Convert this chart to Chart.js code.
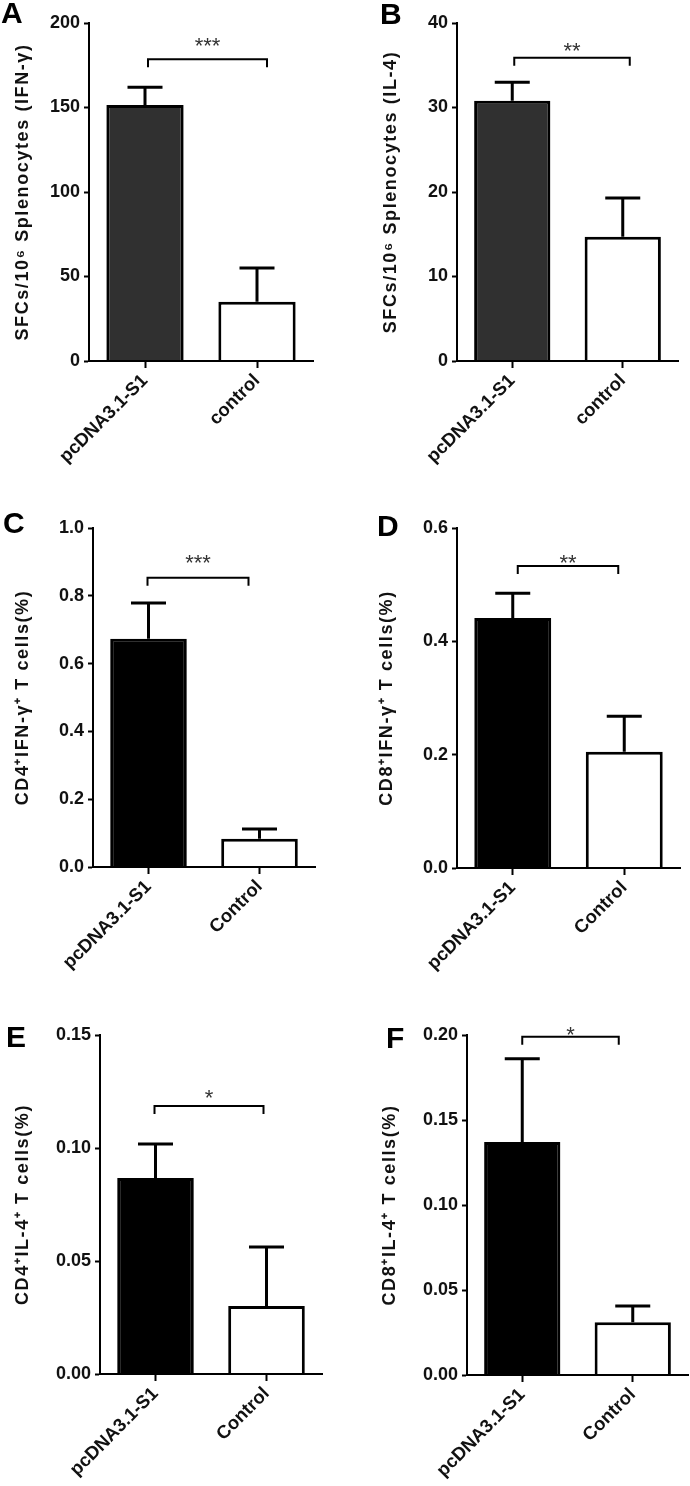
<!DOCTYPE html>
<html>
<head>
<meta charset="utf-8">
<script src="https://cdn.jsdelivr.net/npm/chart.js@4.4.1/dist/chart.umd.min.js"></script>
<style>
  html, body { margin: 0; padding: 0; background: #fff; }
  body { width: 690px; height: 1486px; position: relative; overflow: hidden; }
  canvas { position: absolute; }
  .lbl { position: absolute; font-family: "Liberation Sans", Arial, sans-serif; font-weight: bold; font-size: 30px; line-height: 30px; color: #000; }
</style>
</head>
<body>
<canvas id="cA" width="345" height="490" style="left:0;top:0"></canvas>
<canvas id="cB" width="345" height="490" style="left:345px;top:0"></canvas>
<canvas id="cC" width="345" height="500" style="left:0;top:490px"></canvas>
<canvas id="cD" width="345" height="500" style="left:345px;top:490px"></canvas>
<canvas id="cE" width="345" height="496" style="left:0;top:990px"></canvas>
<canvas id="cF" width="345" height="496" style="left:345px;top:990px"></canvas>
<div class="lbl" style="left:1px;top:-2px">A</div>
<div class="lbl" style="left:380px;top:-1px">B</div>
<div class="lbl" style="left:3px;top:508px">C</div>
<div class="lbl" style="left:377px;top:511px">D</div>
<div class="lbl" style="left:6px;top:1022px">E</div>
<div class="lbl" style="left:386px;top:1023px">F</div>
<script>
// ---- data ----
const categoriesAB = ['pcDNA3.1-S1', 'control'];
const categoriesCF = ['pcDNA3.1-S1', 'Control'];

const valuesA = [151.5, 35];
const errorsA = [10.5, 20];
const bracketA = 178.5;
const starsA = '***';

const valuesB = [30.8, 14.7];
const errorsB = [2.2, 4.6];
const bracketB = 35.9;
const starsB = '**';

const valuesC = [0.673, 0.083];
const errorsC = [0.106, 0.029];
const bracketC = 0.853;
const starsC = '***';

const valuesD = [0.441, 0.205];
const errorsD = [0.044, 0.063];
const bracketD = 0.533;
const starsD = '**';

const valuesE = [0.0867, 0.0301];
const errorsE = [0.0151, 0.0261];
const bracketE = 0.1186;
const starsE = '*';

const valuesF = [0.137, 0.031];
const errorsF = [0.049, 0.0096];
const bracketF = 0.199;
const starsF = '*';

const yTicksA = { min: 0, max: 200, step: 50, dec: 0 };
const yTicksB = { min: 0, max: 40, step: 10, dec: 0 };
const yTicksC = { min: 0, max: 1.0, step: 0.2, dec: 1 };
const yTicksD = { min: 0, max: 0.6, step: 0.2, dec: 1 };
const yTicksE = { min: 0, max: 0.15, step: 0.05, dec: 2 };
const yTicksF = { min: 0, max: 0.20, step: 0.05, dec: 2 };

const titleA = 'SFCs/10\u2076 Splenocytes (IFN-\u03B3)';
const titleB = 'SFCs/10\u2076 Splenocytes (IL-4)';
const titleC = 'CD4\u207AIFN-\u03B3\u207A T cells(%)';
const titleD = 'CD8\u207AIFN-\u03B3\u207A T cells(%)';
const titleE = 'CD4\u207AIL-4\u207A T cells(%)';
const titleF = 'CD8\u207AIL-4\u207A T cells(%)';

// ---- drawing ----
const FONT = '"Liberation Sans", Arial, sans-serif';

// wider letter spacing for the axis titles (drawn with the grid layer, before the datasets)
const spacingPlugin = {
  id: 'spacing',
  beforeDraw(chart) { chart.ctx.letterSpacing = '1.6px'; },
  beforeDatasetsDraw(chart) { chart.ctx.letterSpacing = '0px'; }
};

const sigPlugin = {
  id: 'sig',
  afterDatasetsDraw(chart, args, opts) {
    const ctx = chart.ctx;
    const meta = chart.getDatasetMeta(0);
    const ys = chart.scales.y;
    const vals = chart.data.datasets[0].data;
    ctx.save();
    ctx.strokeStyle = '#000';
    ctx.lineCap = 'butt';
    ctx.lineWidth = 3;
    meta.data.forEach((el, i) => {
      const yTop = ys.getPixelForValue(vals[i] + opts.errors[i]);
      ctx.beginPath();
      ctx.moveTo(el.x, el.y);
      ctx.lineTo(el.x, yTop);
      ctx.moveTo(el.x - 17.5, yTop);
      ctx.lineTo(el.x + 17.5, yTop);
      ctx.stroke();
    });
    const x1 = meta.data[0].x + opts.inset[0];
    const x2 = meta.data[1].x + opts.inset[1];
    const yb = ys.getPixelForValue(opts.bracket);
    ctx.lineWidth = 2;
    ctx.beginPath();
    ctx.moveTo(x1, yb + 8);
    ctx.lineTo(x1, yb);
    ctx.lineTo(x2, yb);
    ctx.lineTo(x2, yb + 8);
    ctx.stroke();
    ctx.fillStyle = '#333';
    ctx.font = '22px ' + FONT;
    ctx.textAlign = 'center';
    ctx.textBaseline = 'alphabetic';
    ctx.fillText(opts.stars, (x1 + x2) / 2, yb - opts.starGap);
    ctx.restore();
  }
};

function makePanel(id, labels, values, errors, bracket, stars, yt, title, fill, lay) {
  return new Chart(document.getElementById(id), {
    type: 'bar',
    data: {
      labels: labels,
      datasets: [{
        data: values,
        backgroundColor: [fill, '#ffffff'],
        borderColor: '#000',
        borderWidth: 3,
        borderSkipped: 'start',
        barPercentage: 0.69,
        categoryPercentage: 1
      }]
    },
    options: {
      responsive: false,
      animation: false,
      devicePixelRatio: 1,
      events: [],
      layout: { padding: { top: lay.top, right: lay.right, left: 0, bottom: 0 } },
      plugins: {
        legend: { display: false },
        tooltip: { enabled: false },
        sig: { errors: errors, bracket: bracket, stars: stars, starGap: lay.starGap, inset: lay.inset }
      },
      scales: {
        x: {
          grid: { display: true, drawOnChartArea: false, offset: false, tickLength: 7, tickWidth: 2, tickColor: '#000', color: '#000' },
          border: { display: true, color: '#000', width: 2, z: 1 },
          ticks: { z: 1, color: '#111', font: { family: FONT, size: 18.5, weight: 'bold' }, maxRotation: 45, minRotation: 45, padding: 2, autoSkip: false },
          afterFit: s => { s.height = lay.xH; }
        },
        y: {
          min: yt.min,
          max: yt.max,
          grid: { display: true, drawOnChartArea: false, tickLength: 5, tickWidth: 2, tickColor: '#000', color: '#000' },
          border: { display: true, color: '#000', width: 2, z: 1 },
          ticks: {
            z: 1,
            stepSize: yt.step,
            color: '#111',
            padding: 4,
            font: { family: FONT, size: 18, weight: 'bold' },
            callback: v => Number(v).toFixed(yt.dec)
          },
          title: {
            display: true,
            text: title,
            color: '#111',
            font: { family: FONT, size: 18, weight: 'bold' },
            padding: { top: lay.titlePad, bottom: 0 }
          },
          afterFit: s => { s.width = lay.yW; }
        }
      }
    },
    plugins: [spacingPlugin, sigPlugin]
  });
}

makePanel('cA', categoriesAB, valuesA, errorsA, bracketA, starsA, yTicksA, titleA, '#303030',
  { top: 23, right: 32, xH: 129, yW: 89, titlePad: 12, starGap: 6, inset: [3, 10] });
makePanel('cB', categoriesAB, valuesB, errorsB, bracketB, starsB, yTicksB, titleB, '#303030',
  { top: 23, right: 12, xH: 129, yW: 112, titlePad: 35, starGap: 0, inset: [2, 7] });
makePanel('cC', categoriesCF, valuesC, errorsC, bracketC, starsC, yTicksC, titleC, '#000000',
  { top: 38, right: 30, xH: 123, yW: 93, titlePad: 12, starGap: 8, inset: [-1, -11] });
makePanel('cD', categoriesCF, valuesD, errorsD, bracketD, starsD, yTicksD, titleD, '#000000',
  { top: 38, right: 10, xH: 122, yW: 112, titlePad: 31, starGap: -4, inset: [5, -6] });
makePanel('cE', categoriesCF, valuesE, errorsE, bracketE, starsE, yTicksE, titleE, '#000000',
  { top: 45, right: 23, xH: 112, yW: 100, titlePad: 12, starGap: 1, inset: [-1, -3] });
makePanel('cF', categoriesCF, valuesF, errorsF, bracketF, starsF, yTicksF, titleF, '#000000',
  { top: 45, right: 2, xH: 111, yW: 122, titlePad: 34, starGap: -5, inset: [0, -14] });
</script>
</body>
</html>
